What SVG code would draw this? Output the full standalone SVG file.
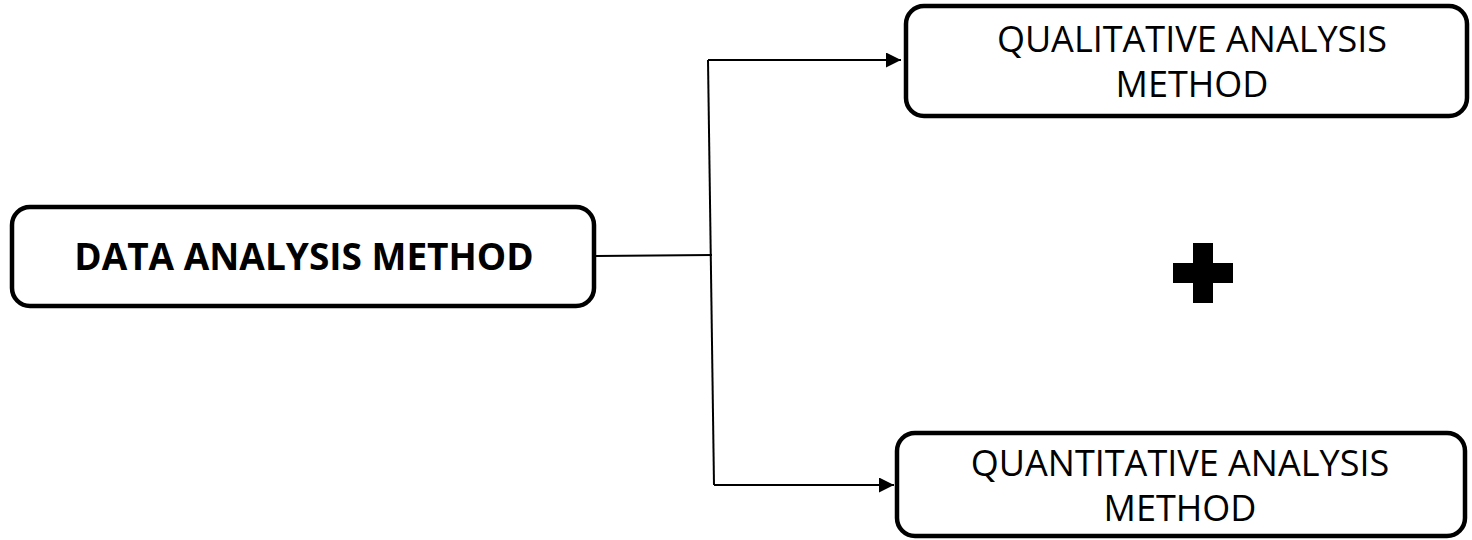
<svg xmlns="http://www.w3.org/2000/svg" width="1472" height="540" viewBox="0 0 1472 540">
  <style>
    .box { fill: #ffffff; stroke: #000000; stroke-width: 4.5; }
    .wire { fill: none; stroke: #000000; stroke-width: 2; }
    .label { font-family: "Open Sans", "Noto Sans", "DejaVu Sans", sans-serif; font-size: 36px; fill: #000000; text-anchor: middle; }
    .bold { font-weight: bold; font-size: 37px; }
  </style>
  <defs>
    <marker id="arrow" viewBox="0 0 10 10" refX="10" refY="5" markerWidth="16" markerHeight="15" markerUnits="userSpaceOnUse" orient="auto">
      <path d="M0,0 L10,5 L0,10 Z" fill="#000000"/>
    </marker>
  </defs>

  <!-- connectors -->
  <g id="connectors">
    <line class="wire" x1="596" y1="256" x2="712" y2="255"/>
    <path class="wire" d="M708,60 L714,485"/>
    <line class="wire" x1="708" y1="60" x2="901" y2="60" marker-end="url(#arrow)"/>
    <line class="wire" x1="714" y1="485" x2="894" y2="485" marker-end="url(#arrow)"/>
  </g>

  <g id="node-data-analysis">
    <rect class="box" x="12" y="207" width="582" height="99" rx="18"/>
    <text class="label bold" x="304" y="270">DATA ANALYSIS METHOD</text>
  </g>

  <g id="node-qualitative">
    <rect class="box" x="906" y="6" width="561" height="110" rx="18"/>
    <text class="label" x="1192" y="52">QUALITATIVE ANALYSIS</text>
    <text class="label" x="1192" y="97">METHOD</text>
  </g>

  <g id="node-quantitative">
    <rect class="box" x="897" y="433" width="568" height="103" rx="18"/>
    <text class="label" x="1180" y="476">QUANTITATIVE ANALYSIS</text>
    <text class="label" x="1180" y="521">METHOD</text>
  </g>

  <g id="plus">
    <path d="M1193,243 H1213 V263 H1233 V283 H1213 V303 H1193 V283 H1173 V263 H1193 Z" fill="#000000"/>
  </g>
</svg>
